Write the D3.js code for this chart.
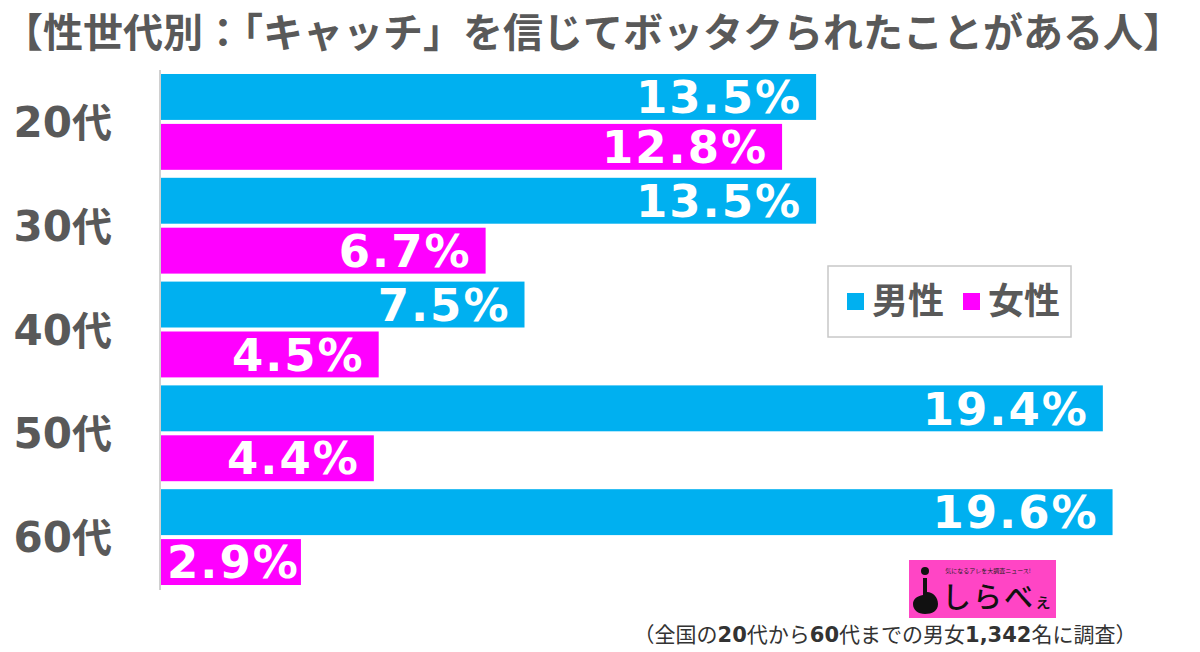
<!DOCTYPE html>
<html><head><meta charset="utf-8">
<script src="https://cdn.jsdelivr.net/npm/d3@7/dist/d3.min.js"></script>
<style>
html,body{margin:0;padding:0;background:#fff;}
svg{display:block;}
</style>
</head><body>
<svg id="chart" width="1200" height="652"></svg>
<script>
const title = "【性世代別：「キャッチ」を信じてボッタクられたことがある人】";
const categories = ["20代","30代","40代","50代","60代"];
const seriesNames = ["男性","女性"];
const male = [13.5, 13.5, 7.5, 19.4, 19.6];
const female = [12.8, 6.7, 4.5, 4.4, 2.9];
const colors = ["#00B0F0", "#FF00FF"];
const footParts = [["（全国の",false],["20",true],["代から",false],["60",true],["代までの男女",false],["1,342",true],["名に調査）",false]];

const svg = d3.select("#chart");
const x = d3.scaleLinear().domain([0, 20]).range([160, 1132]);
const y = d3.scaleBand().domain(categories).range([70, 589]);
const yInner = d3.scaleBand().domain(seriesNames).range([0, y.bandwidth()]).paddingInner(0.08).paddingOuter(0.08);

const rows = [];
categories.forEach((c, i) => {
  rows.push({cat: c, s: seriesNames[0], v: male[i], color: colors[0]});
  rows.push({cat: c, s: seriesNames[1], v: female[i], color: colors[1]});
});

// title
svg.append("text").attr("x", 593).attr("y", 47).attr("text-anchor", "middle")
  .attr("font-family", "'Noto Sans CJK JP', sans-serif").attr("font-weight", 700)
  .attr("font-size", 40).attr("fill", "#595959").text(title);

// bars
svg.append("g").selectAll("rect").data(rows).join("rect")
  .attr("x", x(0)).attr("y", d => y(d.cat) + yInner(d.s))
  .attr("width", d => x(d.v) - x(0)).attr("height", yInner.bandwidth())
  .attr("fill", d => d.color);

// axis line
svg.append("line").attr("x1", x(0)).attr("x2", x(0)).attr("y1", 70).attr("y2", 590)
  .attr("stroke", "#d0d0d0").attr("stroke-width", 2);

// value labels
svg.append("g").selectAll("text").data(rows).join("text")
  .attr("y", d => y(d.cat) + yInner(d.s) + yInner.bandwidth() / 2)
  .attr("dy", "0.36em").attr("text-anchor", "start")
  .attr("font-family", "'DejaVu Sans', sans-serif").attr("font-weight", 700)
  .attr("font-size", 45).attr("letter-spacing", 2).attr("fill", "#fff")
  .text(d => d.v.toFixed(1) + "%")
  .each(function(d) {
    const w = this.getComputedTextLength() - 2;
    const xs = Math.max(x(0) + 7, x(d.v) - 16 - w);
    d3.select(this).attr("x", xs);
  });

// category labels
const catG = svg.append("g").selectAll("text").data(categories).join("text")
  .attr("x", 112).attr("y", d => y(d) + y.bandwidth() / 2)
  .attr("dy", "0.36em").attr("text-anchor", "end")
  .attr("font-family", "'DejaVu Sans', sans-serif").attr("font-weight", 700)
  .attr("font-size", 42).attr("fill", "#595959");
catG.append("tspan").text(d => d.replace("代", ""));
catG.append("tspan").attr("font-family", "'Noto Sans CJK JP', sans-serif").attr("font-size", 40).text("代");

// legend
const lg = svg.append("g");
lg.append("rect").attr("x", 828).attr("y", 266).attr("width", 243).attr("height", 71)
  .attr("fill", "#fff").attr("stroke", "#c8c8c8").attr("stroke-width", 1.5);
const legX = [847, 963];
seriesNames.forEach((s, i) => {
  lg.append("rect").attr("x", legX[i]).attr("y", 293).attr("width", 17).attr("height", 17).attr("fill", colors[i]);
  lg.append("text").attr("x", legX[i] + 25).attr("y", 301).attr("dy", "0.36em")
    .attr("font-family", "'Noto Sans CJK JP', sans-serif").attr("font-weight", 700)
    .attr("font-size", 36).attr("fill", "#595959").text(s);
});

// logo
const logo = svg.append("g");
logo.append("rect").attr("x", 909).attr("y", 560).attr("width", 147).attr("height", 58).attr("fill", "#FF45C5");
logo.append("text").attr("x", 988).attr("y", 573).attr("text-anchor", "middle")
  .attr("font-family", "'Noto Sans CJK JP', sans-serif").attr("font-size", 6).attr("fill", "#222")
  .text("気になるアレを大調査ニュース!");
logo.append("circle").attr("cx", 925).attr("cy", 571).attr("r", 4).attr("fill", "#111");
logo.append("path").attr("d", "M923,578 L927,578 L927,592 C933,592 938,597 938,604 C938,611 932,614 925,614 C918,614 913,610 913,604 C913,599 917,596 923,595 Z").attr("fill", "#111");
logo.append("text").attr("x", 942).attr("y", 608)
  .attr("font-family", "'Noto Sans CJK JP', sans-serif").attr("font-weight", 500).attr("font-size", 29)
  .attr("letter-spacing", 2).attr("fill", "#111")
  .text("しらべ");
logo.append("text").attr("x", 1034).attr("y", 608)
  .attr("font-family", "'Noto Sans CJK JP', sans-serif").attr("font-weight", 500).attr("font-size", 18).attr("fill", "#111")
  .text("ぇ");

// footnote
const ft = svg.append("text").attr("x", 885).attr("y", 642).attr("text-anchor", "middle")
  .attr("font-family", "'Noto Sans CJK JP', sans-serif").attr("font-size", 21).attr("fill", "#333");
footParts.forEach(p => {
  ft.append("tspan").attr("font-weight", p[1] ? 700 : 400)
    .attr("font-family", p[1] ? "'DejaVu Sans', sans-serif" : null).text(p[0]);
});
</script>
</body></html>
